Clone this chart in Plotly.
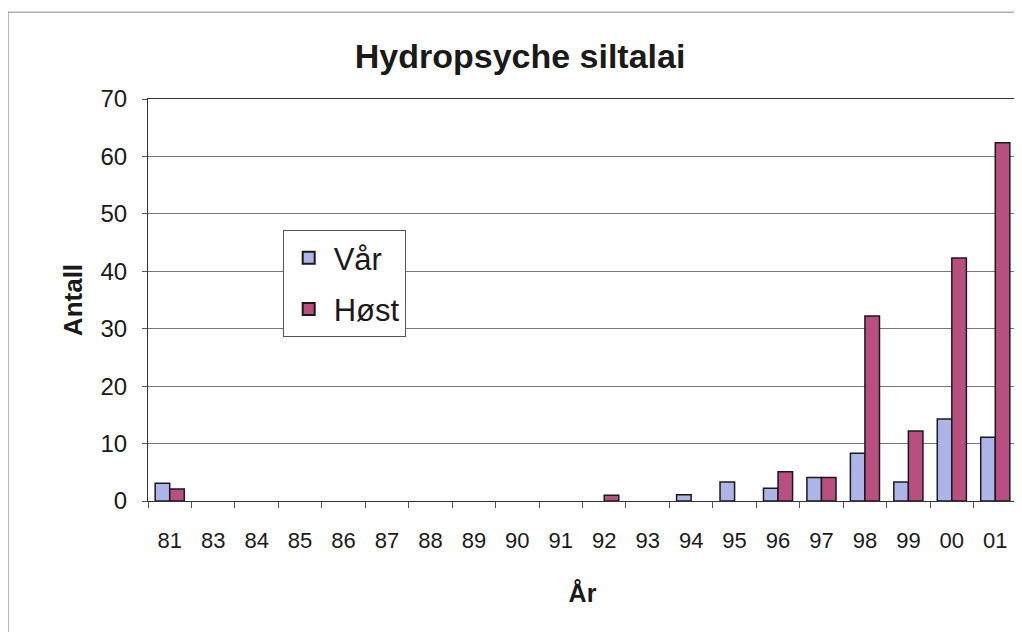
import plotly.graph_objects as go

years = ['81', '83', '84', '85', '86', '87', '88', '89', '90', '91',
         '92', '93', '94', '95', '96', '97', '98', '99', '00', '01']
var_values = [3.1, 0, 0, 0, 0, 0, 0, 0, 0, 0,
              0, 0, 1.1, 3.3, 2.2, 4.1, 8.3, 3.3, 14.3, 11.1]
host_values = [2.1, 0, 0, 0, 0, 0, 0, 0, 0, 0,
               1.0, 0, 0, 0, 5.1, 4.1, 32.2, 12.2, 42.3, 62.4]

font = 'Liberation Sans, Arial, sans-serif'


def hide_zero(vals):
    # Excel doesn't draw an outline for empty bars
    return [v if v else None for v in vals]


fig = go.Figure()
fig.add_trace(go.Bar(x=years, y=hide_zero(var_values), name='Vår', legendgroup='v',
                     marker=dict(color='#adb5e8', line=dict(color='#1a1a1a', width=1.5))))
fig.add_trace(go.Bar(x=years, y=hide_zero(host_values), name='Høst', legendgroup='h',
                     marker=dict(color='#b94f80', line=dict(color='#1a1a1a', width=1.5))))

fig.update_layout(
    width=1014, height=624,
    margin=dict(l=140, r=5, t=91, b=131),
    paper_bgcolor='white', plot_bgcolor='white',
    font=dict(family=font, color='#1a1a1a'),
    title=dict(text='<b>Hydropsyche siltalai</b>', x=0.505, xanchor='center',
               y=0.923, yanchor='middle', font=dict(size=34)),
    barmode='group', bargap=0.33, bargroupgap=0,
    legend=dict(x=0.155, y=0.674, xanchor='left', yanchor='top',
                bgcolor='white', bordercolor='#555555', borderwidth=1,
                font=dict(size=31), itemsizing='constant', itemwidth=40,
                traceorder='grouped', tracegroupgap=8),
)

fig.update_xaxes(
    type='category', tickson='boundaries', ticks='outside', ticklen=6,
    tickcolor='#555555', tickfont=dict(size=22), ticklabelstandoff=20,
    showline=True, linecolor='#333333', linewidth=1, mirror=True,
    showgrid=False,
    title=dict(text='<b>År</b>', font=dict(size=25), standoff=32),
)
fig.update_yaxes(
    range=[0, 70], dtick=10, ticks='outside', ticklen=5,
    tickcolor='#555555', tickfont=dict(size=24), ticklabelstandoff=10,
    showline=True, linecolor='#333333', linewidth=1, mirror=True,
    showgrid=True, gridcolor='#777777', gridwidth=1, zeroline=False,
    title=dict(text='<b>Antall</b>', font=dict(size=26), standoff=10),
)

# chart frame
fig.add_shape(type='rect', xref='paper', yref='paper',
              x0=-0.161, x1=1.003, y0=-0.45, y1=1.216,
              line=dict(color='#888888', width=1), layer='below')

fig.write_html('out.html')
